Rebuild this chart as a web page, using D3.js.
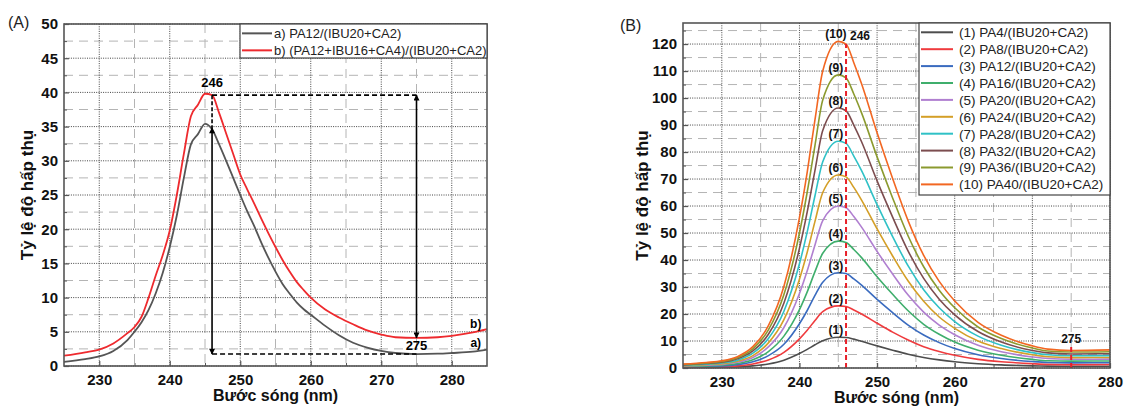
<!DOCTYPE html>
<html>
<head>
<meta charset="utf-8">
<script src="https://cdn.jsdelivr.net/npm/d3@7"></script>
<style>
  body { margin: 0; background: #fff; }
  svg { font-family: "Liberation Sans", Arial, sans-serif; }
</style>
</head>
<body>
<div id="chart"></div>
<script>
// ---- data ----

// panel (A)
var waveA = [225, 228, 230, 232, 234, 235, 236, 237, 238, 239, 240, 241, 242, 243, 244, 245, 246, 247, 248, 249,
             250, 251, 252, 253, 254, 255, 256, 257, 258, 259, 260, 262, 264, 266, 268, 270, 272, 275, 278, 280, 283, 285];
var seriesA_a = [0.6, 1.0, 1.4, 2.2, 3.8, 5.0, 6.4, 8.2, 10.6, 13.6, 17.4, 22, 27.5, 32.4, 33.9, 35.4, 34.6, 32.4, 30, 27.5,
                 25, 22.6, 20.4, 18, 15.8, 13.8, 12, 10.6, 9.3, 8.3, 7.5, 5.9, 4.5, 3.4, 2.7, 2.2, 1.9, 1.75, 1.8, 1.9, 2.1, 2.4];
var seriesA_b = [1.5, 2.0, 2.4, 3.3, 4.8, 5.7, 7.2, 10.0, 13.2, 16.2, 19.8, 25, 31, 36.5, 38.2, 39.8, 39.6, 37, 34, 31,
                 28, 25.8, 23.7, 21.5, 19.4, 17.4, 15.5, 13.8, 12.3, 11.1, 10, 8.3, 7.1, 6.1, 5.2, 4.6, 4.2, 4.1, 4.2, 4.4, 4.9, 5.4];
var labelsA = ["a) PA12/(IBU20+CA2)", "b) (PA12+IBU16+CA4)/(IBU20+CA2)"];
var colorsA = ["#555555", "#ee2a2e"];

// annotation levels in panel (A)
var peakWaveA = 246, minWaveA = 275;
var topLevelA = 39.6, peakLevelA_a = 34.8, baseLevelA = 1.75, minLevelA_b = 4.1;

// panel (B)
var waveB = [225, 228, 230, 232, 234, 236, 238, 240, 241, 242, 243, 245, 246, 247, 248, 250, 252, 254, 256, 258, 260, 263, 266, 270, 272, 275, 280];
var pa4  = [0.14, 0.2, 0.26, 0.42, 0.78, 1.5, 2.9, 5.4, 6.9, 8.6, 10.1, 11.4, 11.3, 10.7, 9.9, 8.2, 6.6, 5.1, 3.9, 3.0, 2.3, 1.6, 1.15, 0.8, 0.68, 0.62, 0.63];
var pa8  = [0.28, 0.4, 0.5, 0.8, 1.5, 3.0, 5.8, 10.8, 14, 17.6, 20.9, 23, 22.8, 21.5, 20, 16.6, 13.3, 10.4, 7.9, 6.1, 4.7, 3.2, 2.3, 1.6, 1.35, 1.25, 1.27];
var pa12 = [0.42, 0.6, 0.78, 1.24, 2.3, 4.6, 8.8, 16.4, 21.3, 26.9, 31.8, 35.3, 35, 33, 30.7, 25.4, 20.5, 15.9, 12.2, 9.4, 7.2, 4.9, 3.5, 2.4, 2.05, 1.9, 1.95];
var pa16 = [0.56, 0.8, 1.03, 1.65, 3.05, 6.1, 11.8, 21.6, 28.2, 35.7, 42.5, 47, 46.5, 43.9, 40.9, 33.8, 27.3, 21.2, 16.2, 12.5, 9.6, 6.6, 4.7, 3.2, 2.7, 2.55, 2.6];
var pa20 = [0.72, 1.0, 1.32, 2.1, 3.9, 7.8, 15, 27.6, 36, 45.6, 54.6, 60, 59.4, 56.1, 52.2, 43.2, 34.8, 27, 20.7, 15.9, 12.3, 8.4, 6, 4.1, 3.5, 3.25, 3.3];
var pa24 = [0.86, 1.2, 1.57, 2.5, 4.6, 9.3, 17.9, 32.9, 42.9, 54.3, 65, 71.5, 70.8, 66.9, 62.2, 51.5, 41.5, 32.2, 24.7, 18.9, 14.7, 10, 7.2, 4.9, 4.15, 3.85, 3.9];
var pa28 = [1.0, 1.43, 1.85, 2.9, 5.5, 10.9, 21, 38.6, 50.4, 63.8, 76.4, 84, 83.2, 78.5, 73.1, 60.5, 48.7, 37.8, 29, 22.3, 17.2, 11.8, 8.4, 5.7, 4.9, 4.55, 4.6];
var pa32 = [1.16, 1.64, 2.1, 3.4, 6.3, 12.5, 24.1, 44.3, 57.8, 73.2, 88, 96.3, 95.3, 90, 83.8, 69.3, 55.9, 43.3, 33.2, 25.5, 19.7, 13.5, 9.6, 6.5, 5.6, 5.2, 5.3];
var pa36 = [1.3, 1.85, 2.4, 3.8, 7.1, 14.1, 27.2, 50, 65.2, 82.5, 99.3, 108.6, 107.5, 101.5, 94.5, 78.2, 63, 48.9, 37.5, 28.8, 22.3, 15.2, 10.9, 7.4, 6.3, 5.9, 6.0];
var pa40 = [1.45, 2.06, 2.66, 4.2, 7.9, 15.7, 30.3, 55.7, 72.6, 92, 110, 121, 120, 113.1, 105.3, 87.1, 70.2, 54.5, 41.7, 32.1, 24.8, 16.9, 12.1, 8.2, 7.0, 6.5, 6.7];
var seriesB = [pa4, pa8, pa12, pa16, pa20, pa24, pa28, pa32, pa36, pa40];
var labelsB = ["(1) PA4/(IBU20+CA2)", "(2) PA8/(IBU20+CA2)", "(3) PA12/(IBU20+CA2)", "(4) PA16/(IBU20+CA2)",
               "(5) PA20/(IBU20+CA2)", "(6) PA24/(IBU20+CA2)", "(7) PA28/(IBU20+CA2)", "(8) PA32/(IBU20+CA2)",
               "(9) PA36/(IBU20+CA2)", "(10) PA40/(IBU20+CA2)"];
var colorsB = ["#4d4d4d", "#ef3b3e", "#3a6bbf", "#3fae6c", "#b07fd0", "#d49f27", "#2fc1c6", "#7c4d4f", "#8b9a2f", "#f26722"];
var peakWaveB = 246, minWaveB = 275, minMarkTopB = 8;

var yTitle = "Tỷ lệ độ hấp thụ";
var xTitle = "Bước sóng (nm)";

// ---- canvas ----
var svg = d3.select("#chart").append("svg")
    .attr("width", 1124)
    .attr("height", 408);

var defs = svg.append("defs");
defs.append("marker")
    .attr("id", "arrow")
    .attr("viewBox", "0 0 10 10")
    .attr("refX", 9).attr("refY", 5)
    .attr("markerWidth", 9).attr("markerHeight", 6)
    .attr("markerUnits", "userSpaceOnUse")
    .attr("orient", "auto-start-reverse")
    .append("path")
    .attr("d", "M0,0 L10,5 L0,10 Z")
    .attr("fill", "#000");

// draws grid, ticks and axis titles; returns scales and plot group
function drawFrame(opt) {
    var x = d3.scaleLinear().domain(opt.xDomain).range([opt.left, opt.right]);
    var y = d3.scaleLinear().domain(opt.yDomain).range([opt.bottom, opt.top]);
    var g = svg.append("g");

    // minor dashed grid
    g.selectAll(".xminor").data(opt.xMinor).enter().append("line")
        .attr("x1", d => x(d)).attr("x2", d => x(d))
        .attr("y1", opt.top).attr("y2", opt.bottom)
        .attr("stroke", "#b4b4b4").attr("stroke-dasharray", "9,6");
    g.selectAll(".yminor").data(opt.yMinor).enter().append("line")
        .attr("x1", opt.left).attr("x2", opt.right)
        .attr("y1", d => y(d)).attr("y2", d => y(d))
        .attr("stroke", "#b4b4b4").attr("stroke-dasharray", "9,6");
    // major dotted grid
    g.selectAll(".xmajor").data(opt.xMajor).enter().append("line")
        .attr("x1", d => x(d)).attr("x2", d => x(d))
        .attr("y1", opt.top).attr("y2", opt.bottom)
        .attr("stroke", "#444").attr("stroke-dasharray", "1,1.3");
    g.selectAll(".ymajor").data(opt.yMajor).enter().append("line")
        .attr("x1", opt.left).attr("x2", opt.right)
        .attr("y1", d => y(d)).attr("y2", d => y(d))
        .attr("stroke", "#444").attr("stroke-dasharray", "1,1.3");

    // axes (inside ticks, bold labels)
    var xAxis = d3.axisBottom(x).tickValues(opt.xMajor).tickSize(-5).tickPadding(8).tickFormat(d3.format("d"));
    var yAxis = d3.axisLeft(y).tickValues(opt.yMajor).tickSize(-5).tickPadding(6).tickFormat(d3.format("d"));
    var xa = g.append("g").attr("transform", `translate(0,${opt.bottom})`).call(xAxis);
    var ya = g.append("g").attr("transform", `translate(${opt.left},0)`).call(yAxis);
    [xa, ya].forEach(function(a) {
        a.select(".domain").remove();
        a.selectAll("line").attr("stroke", "#555").attr("stroke-width", 1.2);
        a.selectAll("text").attr("fill", "#111").attr("font-size", 15).attr("font-weight", "bold");
    });
    g.append("g").attr("transform", `translate(0,${opt.bottom})`)
        .call(d3.axisBottom(x).tickValues(opt.xMinor).tickSize(-3).tickFormat(""))
        .call(s => s.select(".domain").remove())
        .selectAll("line").attr("stroke", "#555");
    g.append("g").attr("transform", `translate(${opt.left},0)`)
        .call(d3.axisLeft(y).tickValues(opt.yMinor).tickSize(-3).tickFormat(""))
        .call(s => s.select(".domain").remove())
        .selectAll("line").attr("stroke", "#555");

    // titles
    svg.append("text")
        .attr("x", (opt.left + opt.right) / 2).attr("y", opt.xTitleY)
        .attr("text-anchor", "middle").attr("font-size", 16).attr("font-weight", "bold").attr("fill", "#111")
        .text(xTitle);
    svg.append("text")
        .attr("transform", `translate(${opt.yTitleX},${(opt.top + opt.bottom) / 2}) rotate(-90)`)
        .attr("text-anchor", "middle").attr("font-size", 17).attr("font-weight", "bold").attr("fill", "#111")
        .text(yTitle);
    svg.append("text")
        .attr("x", opt.tagX).attr("y", opt.tagY)
        .attr("font-size", 16).attr("fill", "#222")
        .text(opt.tag);

    return { x: x, y: y, g: g, opt: opt };
}

function drawFrameBox(p) {
    var o = p.opt;
    svg.append("rect")
        .attr("x", o.left).attr("y", o.top)
        .attr("width", o.right - o.left).attr("height", o.bottom - o.top)
        .attr("fill", "none").attr("stroke", "#555").attr("stroke-width", 1.6);
}

function drawLegend(labels, colors, box, rowH, lineLen, textX, fontSize) {
    var lg = svg.append("g");
    lg.append("rect")
        .attr("x", box.x).attr("y", box.y).attr("width", box.w).attr("height", box.h)
        .attr("fill", "#fff").attr("stroke", "#444").attr("stroke-width", 1.2);
    labels.forEach(function(lab, i) {
        var cy = box.y + rowH * 0.55 + i * rowH;
        lg.append("line")
            .attr("x1", box.x + 2).attr("x2", box.x + 2 + lineLen)
            .attr("y1", cy).attr("y2", cy)
            .attr("stroke", colors[i]).attr("stroke-width", 2);
        lg.append("text")
            .attr("x", box.x + textX).attr("y", cy + 5)
            .attr("font-size", fontSize).attr("fill", "#222")
            .text(lab);
    });
}

var line = function(p, xs) {
    return d3.line()
        .x((d, i) => p.x(xs[i]))
        .y(d => p.y(d))
        .curve(d3.curveMonotoneX);
};

// ================= PANEL A =================
var pA = drawFrame({
    left: 64, right: 487, top: 24, bottom: 366,
    xDomain: [225, 285], yDomain: [0, 50],
    xMajor: [230, 240, 250, 260, 270, 280], xMinor: [235, 245, 255, 265, 275],
    yMajor: d3.range(0, 51, 5), yMinor: d3.range(2.5, 50, 5),
    yTitleX: 33, xTitleY: 401, tag: "(A)", tagX: 8, tagY: 28
});

[seriesA_a, seriesA_b].forEach(function(s, i) {
    pA.g.append("path")
        .datum(s)
        .attr("d", line(pA, waveA))
        .attr("fill", "none")
        .attr("stroke", colorsA[i])
        .attr("stroke-width", 1.8);
});

// dashed guides and arrows
var dashA = "5,3";
pA.g.append("line")
    .attr("x1", pA.x(peakWaveA)).attr("x2", pA.x(minWaveA))
    .attr("y1", pA.y(topLevelA)).attr("y2", pA.y(topLevelA))
    .attr("stroke", "#000").attr("stroke-width", 1.6).attr("stroke-dasharray", dashA);
pA.g.append("line")
    .attr("x1", pA.x(peakWaveA)).attr("x2", pA.x(peakWaveA))
    .attr("y1", pA.y(topLevelA)).attr("y2", pA.y(peakLevelA_a))
    .attr("stroke", "#000").attr("stroke-width", 1.6).attr("stroke-dasharray", "4,2");
pA.g.append("line")
    .attr("x1", pA.x(peakWaveA)).attr("x2", pA.x(minWaveA))
    .attr("y1", pA.y(baseLevelA)).attr("y2", pA.y(baseLevelA))
    .attr("stroke", "#000").attr("stroke-width", 1.6).attr("stroke-dasharray", dashA);
pA.g.append("line")
    .attr("x1", pA.x(peakWaveA)).attr("x2", pA.x(peakWaveA))
    .attr("y1", pA.y(peakLevelA_a)).attr("y2", pA.y(baseLevelA))
    .attr("stroke", "#000").attr("stroke-width", 1.6)
    .attr("marker-start", "url(#arrow)").attr("marker-end", "url(#arrow)");
pA.g.append("line")
    .attr("x1", pA.x(minWaveA)).attr("x2", pA.x(minWaveA))
    .attr("y1", pA.y(topLevelA)).attr("y2", pA.y(minLevelA_b))
    .attr("stroke", "#000").attr("stroke-width", 1.6)
    .attr("marker-start", "url(#arrow)").attr("marker-end", "url(#arrow)");

pA.g.append("text")
    .attr("x", pA.x(peakWaveA)).attr("y", pA.y(topLevelA) - 8)
    .attr("text-anchor", "middle").attr("font-size", 13).attr("font-weight", "bold")
    .text(String(peakWaveA));
pA.g.append("text")
    .attr("x", pA.x(minWaveA)).attr("y", pA.y(baseLevelA) - 4)
    .attr("text-anchor", "middle").attr("font-size", 13).attr("font-weight", "bold")
    .text(String(minWaveA));
pA.g.append("text")
    .attr("x", pA.x(283.4)).attr("y", pA.y(seriesA_b[seriesA_b.length - 2]) - 4)
    .attr("text-anchor", "middle").attr("font-size", 12).attr("font-weight", "bold")
    .text("b)");
pA.g.append("text")
    .attr("x", pA.x(283.4)).attr("y", pA.y(seriesA_a[seriesA_a.length - 2]) - 5)
    .attr("text-anchor", "middle").attr("font-size", 12).attr("font-weight", "bold")
    .text("a)");

drawFrameBox(pA);
drawLegend(labelsA, colorsA, { x: 240, y: 24, w: 247, h: 34 }, 17, 30, 34, 13);

// ================= PANEL B =================
var pB = drawFrame({
    left: 683, right: 1110, top: 23, bottom: 368,
    xDomain: [225, 280], yDomain: [0, 127.8],
    xMajor: [230, 240, 250, 260, 270, 280], xMinor: [235, 245, 255, 265, 275],
    yMajor: d3.range(0, 121, 10), yMinor: d3.range(5, 126, 10),
    yTitleX: 648, xTitleY: 403, tag: "(B)", tagX: 620, tagY: 31
});

seriesB.forEach(function(s, i) {
    pB.g.append("path")
        .datum(s)
        .attr("d", line(pB, waveB))
        .attr("fill", "none")
        .attr("stroke", colorsB[i])
        .attr("stroke-width", 1.6);
});

// red dashed marks at 246 and 275
var iPeak = waveB.indexOf(245);
pB.g.append("line")
    .attr("x1", pB.x(peakWaveB)).attr("x2", pB.x(peakWaveB))
    .attr("y1", pB.y(0)).attr("y2", pB.y(pa40[iPeak + 1]))
    .attr("stroke", "#e8202a").attr("stroke-width", 2).attr("stroke-dasharray", "5,3");
pB.g.append("line")
    .attr("x1", pB.x(minWaveB)).attr("x2", pB.x(minWaveB))
    .attr("y1", pB.y(0)).attr("y2", pB.y(minMarkTopB))
    .attr("stroke", "#e8202a").attr("stroke-width", 2).attr("stroke-dasharray", "5,3");

seriesB.forEach(function(s, i) {
    pB.g.append("text")
        .attr("x", pB.x(244.7)).attr("y", pB.y(s[iPeak]) - 3)
        .attr("text-anchor", "middle").attr("font-size", 12).attr("font-weight", "bold").attr("fill", "#111")
        .text("(" + (i + 1) + ")");
});
pB.g.append("text")
    .attr("x", pB.x(247.8)).attr("y", pB.y(pa40[iPeak]) - 1)
    .attr("text-anchor", "middle").attr("font-size", 12).attr("font-weight", "bold").attr("fill", "#111")
    .text(String(peakWaveB));
pB.g.append("text")
    .attr("x", pB.x(minWaveB)).attr("y", pB.y(minMarkTopB) - 3)
    .attr("text-anchor", "middle").attr("font-size", 12).attr("font-weight", "bold").attr("fill", "#111")
    .text(String(minWaveB));

drawFrameBox(pB);
drawLegend(labelsB, colorsB, { x: 919, y: 23, w: 191, h: 172 }, 16.9, 32, 40, 13.5);
</script>
</body>
</html>
